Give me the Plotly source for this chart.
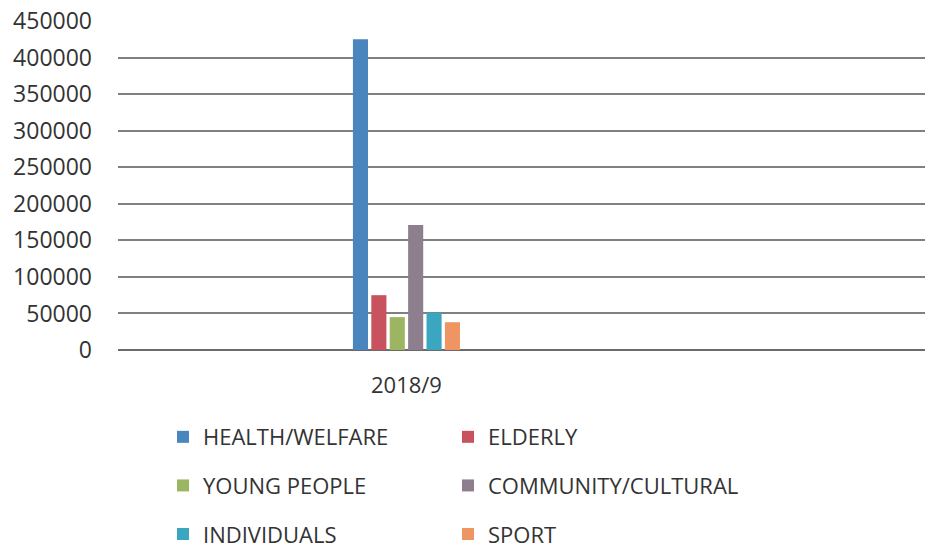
import plotly.graph_objects as go

# Grant totals by category for the 2018/9 year
years = ["2018/9"]
categories = ["HEALTH/WELFARE", "ELDERLY", "YOUNG PEOPLE",
              "COMMUNITY/CULTURAL", "INDIVIDUALS", "SPORT"]
amounts = [425000, 75000, 45000, 171000, 51000, 38000]
colors = ["#4a86bd", "#c9525f", "#9bb562", "#8e7f8e", "#3aa6c0", "#ee9563"]
y_ticks = [0, 50000, 100000, 150000, 200000, 250000, 300000, 350000, 400000, 450000]

FONT = "Open Sans"
TEXT = "#333333"

# legend laid out as two columns: left column and right column
legend_of = ["legend", "legend2", "legend", "legend2", "legend", "legend2"]

fig = go.Figure()
for i, (name, val, col, lg) in enumerate(zip(categories, amounts, colors, legend_of)):
    fig.add_trace(go.Bar(
        x=years, y=[val], name=name,
        marker=dict(color=col, line=dict(width=0)),
        legend=lg, legendgroup=f"g{i}",
    ))

legend_common = dict(
    orientation="v", xanchor="left", yanchor="top",
    xref="container", yref="container", y=0.2436,
    tracegroupgap=17,
    font=dict(family=FONT, size=22, color=TEXT),
    bgcolor="rgba(0,0,0,0)", itemclick=False, itemdoubleclick=False,
)

fig.update_layout(
    width=925, height=550,
    margin=dict(l=118, r=0, t=21, b=200, autoexpand=False),
    paper_bgcolor="white", plot_bgcolor="white",
    barmode="group", bargap=0.0, bargroupgap=0.18,
    font=dict(family=FONT, size=22, color=TEXT),
    showlegend=True,
    legend=dict(legend_common, x=163 / 925),
    legend2=dict(legend_common, x=448 / 925),
    xaxis=dict(
        type="category", range=[-2.613, 4.697],
        showgrid=False, showline=False, ticks="",
        ticklabelstandoff=20,
        tickfont=dict(family=FONT, size=22, color=TEXT),
    ),
    yaxis=dict(
        range=[0, 450000], tickvals=y_ticks,
        ticktext=[str(v) for v in y_ticks],
        showgrid=True, gridcolor="#808080", gridwidth=1.6,
        zeroline=True, zerolinecolor="#6a6a6a", zerolinewidth=1.6,
        showline=False, ticks="", ticklabelstandoff=25,
        tickfont=dict(family=FONT, size=23, color=TEXT),
    ),
)

fig.write_html("out.html")
